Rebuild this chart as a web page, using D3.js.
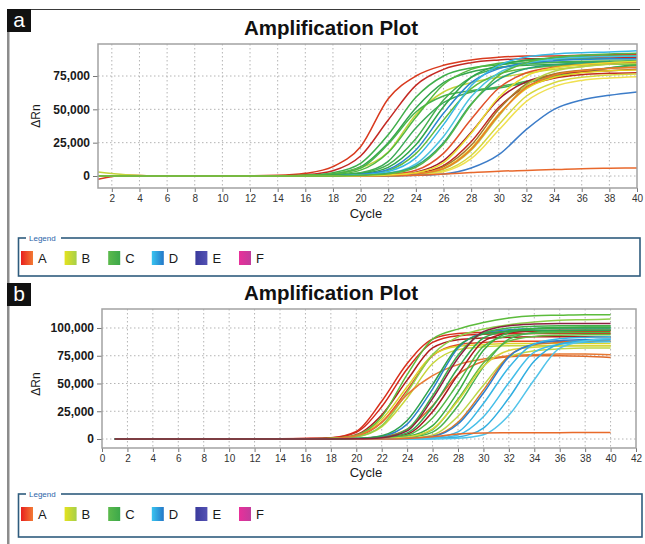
<!DOCTYPE html>
<html>
<head>
<meta charset="utf-8">
<script src="https://cdn.jsdelivr.net/npm/d3@7"></script>
<style>
  body { margin: 0; background: #fff; }
  svg { display: block; font-family: "Liberation Sans", Arial, sans-serif; }
</style>
</head>
<body>
<div id="chart"></div>
<script>
// sampled cycles shared by every curve (values below are in thousands of ΔRn)
const cycles = [1, 3, 6, 10, 14, 16, 18, 20, 22, 24, 26, 28, 30, 32, 34, 36, 38, 40];

const seriesNames = ["A", "B", "C", "D", "E", "F"];
const seriesGradients = [
  ["#e8201e", "#f27a34"],
  ["#e4e21e", "#a6d04a"],
  ["#5cba4c", "#3ca84a"],
  ["#38c4f0", "#2478c8"],
  ["#3a3a9c", "#5452b4"],
  ["#e8309a", "#c23c9c"]
];

const xTicksA = d3.range(2, 41, 2);
const yTicksA = [0, 25000, 50000, 75000];
const xTicksB = d3.range(0, 43, 2);
const yTicksB = [0, 25000, 50000, 75000, 100000];

// panel a curves
const groupsA = ["A","A","C","C","B","C","C","C","C","C","C","D","D","D","C","A","A","A","A","B","B","B","B","A","D","A","B","C"];
const colorsA = ["#d93a1e","#c42a24","#3fae4a","#34a64e","#c4d43a","#48b24a","#52b840","#3caa56","#44b050","#2ea64a",
  "#62bc3c","#2a84d0","#36b6e6","#4ac2e2","#2aa07a","#e0502a","#a3182e","#c02a1e","#a8782a","#e2d21e",
  "#d6d83e","#f0e050","#b6d044","#ee7a2a","#3c7cc8","#e8682c","#e8dc30","#56b646"];
const valuesA = [
  [-2.5, 0.5, 0, 0, 0.5, 2, 7, 22, 58, 75, 83, 87, 89, 90, 90, 90.5, 91, 91],
  [0, 0, 0, 0, 0.2, 1, 4, 15, 42, 68, 80, 85, 87, 88, 88, 88.5, 89, 89],
  [0, 0, 0, 0, 0.1, 0.5, 2.5, 9.5, 31, 59, 75, 81, 83.5, 85, 85.5, 86, 86, 86.5],
  [0, 0, 0, 0, 0, 0.4, 1.7, 7, 25, 51, 70, 78, 81.5, 83, 83.5, 84, 84, 84.5],
  [3, 1, 0, 0, 0, 0.3, 1.5, 6, 18, 46, 63, 70, 74, 77, 80, 82, 84, 85],
  [0, 0, 0, 0, 0.1, 0.4, 1.6, 6, 24, 48, 60, 64, 67, 71, 75, 78, 81, 83],
  [0, 0, 0, 0, 0, 0.2, 1, 4.4, 17.6, 44, 68.6, 80, 84.5, 86.5, 87.5, 88, 88, 88],
  [0, 0, 0, 0, 0, 0.2, 0.8, 2.5, 11, 36, 55, 63, 66, 70, 74, 78, 81, 84],
  [0, 0, 0, 0, 0, 0, 0.4, 2.2, 8.6, 28, 57, 74, 81, 84, 85, 85.5, 86, 86],
  [0, 0, 0, 0, 0, 0, 0.3, 1.6, 6.5, 23.4, 52, 74, 83, 87, 88.5, 89.5, 90, 90],
  [0, 0, 0, 0, 0, 0, 0.2, 1, 4.2, 16.8, 42, 65.5, 76.5, 80.6, 82.5, 83.5, 84, 84],
  [0, 0, 0, 0, 0, 0, 0.2, 1.2, 5, 19.5, 47, 70, 80.5, 84.7, 86.5, 87.5, 88, 88],
  [0, 0, 0, 0, 0, 0, 0.1, 0.8, 3.4, 13.6, 38.5, 67.7, 83, 89.3, 91.5, 92.5, 93, 94],
  [0, 0, 0, 0, 0, 0, 0, 0.5, 2.2, 9, 29.7, 59.4, 77.4, 84.6, 87.8, 89, 89.5, 90],
  [0, 0, 0, 0, 0, 0, 0, 0.4, 2, 7.6, 25, 54, 72.5, 80.5, 83.5, 85, 85.5, 86],
  [0, 0, 0, 0, 0, 0, 0, 0.2, 1, 4.3, 17, 42.5, 66, 77.4, 81.6, 83.5, 84.5, 85],
  [0, 0, 0, 0, 0, 0, 0, 0, 0.6, 2.9, 11.6, 32.8, 57.6, 70.8, 76, 78, 79, 80],
  [0, 0, 0, 0, 0, 0, 0, 0, 0.4, 2, 7.8, 25.7, 51.5, 67, 73.3, 76, 77, 77.5],
  [0, 0, 0, 0, 0, 0, 0, 0, 0.3, 1.4, 6.8, 23, 50, 69, 76.5, 79.3, 80.8, 81.5],
  [0, 0, 0, 0, 0, 0, 0, 0, 0.3, 1.4, 5.8, 20.8, 46.4, 65.6, 74, 77.4, 79, 79.5],
  [0, 0, 0, 0, 0, 0, 0, 0, 0.2, 0.9, 3.9, 15.4, 38.5, 60, 70, 74, 75.8, 76.5],
  [0, 0, 0, 0, 0, 0, 0, 0, 0.1, 0.7, 3.2, 13, 34.5, 56, 67, 71.7, 73.5, 74.5],
  [0, 0, 0, 0, 0, 0, 0, 0, 0.3, 1.2, 5.2, 19.3, 45, 68, 78.6, 82, 83.8, 84.5],
  [0, 0, 0, 0, 0, 0, 0, 0, 0.3, 1.4, 5.5, 20, 46, 66.5, 75.6, 79, 80.7, 81.5],
  [0, 0, 0, 0, 0, 0, 0, 0, 0.1, 0.5, 1.5, 6, 16, 35, 50, 57, 60.5, 63],
  [0, 0, 0, 0, 0, 0, 0, 0, 0.2, 0.6, 1.5, 2.6, 3.6, 4.2, 4.8, 5.5, 5.8, 6],
  [0, 0, 0, 0, 0, 0, 0, 0.2, 0.8, 2.5, 10, 32, 59, 75, 81, 83.5, 85, 86],
  [0, 0, 0, 0, 0, 0, 0, 0.5, 1.7, 6.6, 24, 53.4, 75.4, 85, 89, 90.5, 91.5, 92]
];

// panel b curves
const groupsB = ["A","A","A","A","B","B","C","C","A","A","A","D","C","C","C","C","C","C","B","B","A","D","D","D","D","D","A","C","A"];
const colorsB = ["#d8301c","#d42a1c","#b01c1c","#e24a24","#dcd426","#c6d63a","#5cbc3c","#8ed04a","#e87a34","#e06a2a",
  "#a81a22","#2a80cc","#40b04a","#34a850","#52b846","#3aac44","#66be40","#48b24e","#d8d43a","#bed646",
  "#d8782c","#2c7ed0","#38b6e4","#44bee8","#30aee0","#52c4ea","#e86a2a","#2ea24c","#8c2040"];
const valuesB = [
  [0, 0, 0, 0, 0.2, 0.5, 1.2, 6.8, 34, 68, 90, 95, 96, 96.5, 97, 97, 97, 97],
  [0, 0, 0, 0, 0.1, 0.4, 1, 6, 29, 63, 87, 93, 94.3, 94.8, 95, 95, 95, 95],
  [0, 0, 0, 0, 0, 0.2, 0.6, 3.9, 21.6, 53, 82, 89.5, 91, 91.6, 92, 92, 92, 92],
  [0, 0, 0, 0, 0, 0.1, 0.4, 2.6, 15, 44, 75, 85, 87, 88, 88, 88, 88, 88],
  [0, 0, 0, 0, 0, 0.1, 0.5, 3.1, 17.6, 47, 75.5, 83.5, 85, 86, 86, 86, 86, 86],
  [0, 0, 0, 0, 0, 0, 0.3, 2.1, 11, 37, 68, 80.5, 83, 84, 84, 84, 84, 84],
  [0, 0, 0, 0, 0, 0.1, 0.6, 3.5, 20, 58, 90, 99, 105, 109, 111, 111.5, 112, 112],
  [0, 0, 0, 0, 0, 0, 0.3, 2, 12, 42, 76, 92, 99, 103, 105.5, 107, 107.5, 108],
  [0, 0, 0, 0, 0, 0.1, 0.5, 3, 15, 40, 57, 67, 72, 75, 76, 76.5, 76.5, 76],
  [0, 0, 0, 0, 0, 0, 0, 0.4, 2, 9, 30, 58, 70, 74, 75, 75, 74.5, 73.5],
  [0, 0, 0, 0, 0, 0, 0, 0.2, 0.8, 4.4, 24.5, 58, 88, 95.5, 97.5, 98, 98, 98],
  [0, 0, 0, 0, 0, 0, 0, 0.4, 2.4, 13.4, 45, 82, 95.6, 98.5, 99.5, 100, 100, 100],
  [0, 0, 0, 0, 0, 0, 0, 0.2, 1.4, 8.6, 39, 75.5, 95.5, 100, 101.5, 102, 102, 102],
  [0, 0, 0, 0, 0, 0, 0, 0.1, 1, 5.5, 29, 64, 91, 97.5, 99.3, 100, 100, 100],
  [0, 0, 0, 0, 0, 0, 0, 0, 0.6, 3.4, 19, 50, 83.5, 93, 95.3, 96, 96, 96],
  [0, 0, 0, 0, 0, 0, 0, 0, 0.35, 2.2, 12, 42.4, 80, 96, 99.5, 100.5, 101, 101],
  [0, 0, 0, 0, 0, 0, 0, 0, 0.2, 1.4, 8.4, 36, 68.5, 88.2, 92.4, 93.5, 94, 94],
  [0, 0, 0, 0, 0, 0, 0, 0, 0.1, 1.1, 6.2, 30, 65, 90, 96, 97.3, 98, 98],
  [0, 0, 0, 0, 0, 0, 0, 0, 0.3, 1.8, 9.2, 34.4, 65.5, 79.8, 82.7, 83.6, 84, 84],
  [0, 0, 0, 0, 0, 0, 0, 0, 0.1, 0.7, 3.7, 20.5, 48.4, 73.8, 79.5, 81.2, 82, 82],
  [0, 0, 0, 0, 0, 0, 0, 0, 0.1, 0.4, 2.6, 15, 44, 75, 85, 87, 88, 88],
  [0, 0, 0, 0, 0, 0, 0, 0, 0.1, 0.4, 2.3, 13.5, 41.4, 74, 85.5, 88.6, 89.5, 90],
  [0, 0, 0, 0, 0, 0, 0, 0, 0, 0.2, 1.1, 6.4, 32, 64.4, 85.6, 90.2, 91.5, 92],
  [0, 0, 0, 0, 0, 0, 0, 0, 0, 0.1, 0.8, 3.7, 20, 50.7, 78.3, 85.4, 87.1, 87.6],
  [0, 0, 0, 0, 0, 0, 0, 0, 0, 0, 0.3, 1.9, 9.9, 36.9, 70.2, 85.5, 88.6, 89.5],
  [0, 0, 0, 0, 0, 0, 0, 0, 0, 0, 0.1, 0.6, 3.8, 21.3, 53.4, 81.9, 88.3, 90.5],
  [0, 0, 0, 0, 0, 0, 0, 0, 0, 0.5, 2, 4.5, 5.5, 5.6, 5.7, 5.7, 5.8, 5.8],
  [0, 0, 0, 0, 0, 0, 0, 0.5, 3, 16.7, 49, 83.3, 94.6, 97, 98, 98, 98, 98],
  [0, 0, 0, 0, 0, 0, 0, 0.2, 1.2, 7.3, 36.4, 72.8, 96.7, 102, 103.5, 104, 104, 104]
];

const width = 645;
const height = 544;

const svg = d3.select("#chart")
  .append("svg")
  .attr("width", width)
  .attr("height", height);

const defs = svg.append("defs");

// gradients for legend swatches
seriesGradients.forEach((g, i) => {
  const lg = defs.append("linearGradient")
    .attr("id", "grad" + i)
    .attr("x1", "0%").attr("x2", "100%")
    .attr("y1", "0%").attr("y2", "0%");
  lg.append("stop").attr("offset", "0%").attr("stop-color", g[0]);
  lg.append("stop").attr("offset", "100%").attr("stop-color", g[1]);
});

// outer figure frame
svg.append("line")
  .attr("x1", 7).attr("x2", 640)
  .attr("y1", 9.5).attr("y2", 9.5)
  .attr("stroke", "#3a3a3a")
  .attr("stroke-width", 1);

svg.append("rect")
  .attr("x", 7).attr("y", 9)
  .attr("width", 2.5).attr("height", height - 9)
  .attr("fill", "#8c8c8c");

function drawPanel(p) {
  const g = svg.append("g");

  // panel letter
  g.append("rect")
    .attr("x", 7).attr("y", p.labelTop)
    .attr("width", 24).attr("height", 23)
    .attr("fill", "#111");
  g.append("text")
    .attr("x", 19).attr("y", p.labelTop + 18)
    .attr("text-anchor", "middle")
    .attr("fill", "#fff")
    .style("font-size", "21px")
    .text(p.label);

  // title
  g.append("text")
    .attr("x", 331).attr("y", p.titleY)
    .attr("text-anchor", "middle")
    .attr("fill", "#111")
    .style("font-size", "20.5px")
    .style("font-weight", "bold")
    .text("Amplification Plot");

  const x = d3.scaleLinear().domain(p.xDomain).range([p.left, p.right]);
  const y = d3.scaleLinear().domain(p.yDomain).range([p.bottom, p.top]);

  // dotted grid
  g.append("g").selectAll("line")
    .data(p.xTicks.filter(t => t > p.xDomain[0] && t < p.xDomain[1]))
    .enter().append("line")
    .attr("x1", d => x(d)).attr("x2", d => x(d))
    .attr("y1", p.top).attr("y2", p.bottom)
    .attr("stroke", "#b4b4b4")
    .attr("stroke-dasharray", "1.5,2.5");
  g.append("g").selectAll("line")
    .data(p.yTicks)
    .enter().append("line")
    .attr("x1", p.left).attr("x2", p.right)
    .attr("y1", d => y(d)).attr("y2", d => y(d))
    .attr("stroke", "#b4b4b4")
    .attr("stroke-dasharray", "1.5,2.5");

  // axes
  const yAxis = g.append("g")
    .attr("transform", `translate(${p.left},0)`)
    .call(d3.axisLeft(y).tickValues(p.yTicks).tickFormat(d3.format(",")).tickSize(5).tickPadding(3));
  yAxis.select(".domain").remove();
  yAxis.selectAll("line").attr("stroke", "#777");
  yAxis.selectAll("text")
    .attr("fill", "#1a1a1a")
    .style("font-size", "12px")
    .style("font-weight", "bold")
    .style("font-family", "'Liberation Sans', Arial, sans-serif");

  const xAxis = g.append("g")
    .attr("transform", `translate(0,${p.bottom})`)
    .call(d3.axisBottom(x).tickValues(p.xTicks).tickSize(4).tickPadding(3));
  xAxis.select(".domain").remove();
  xAxis.selectAll("line").attr("stroke", "#777");
  xAxis.selectAll("text")
    .attr("fill", "#333")
    .style("font-size", "10px")
    .style("font-family", "'Liberation Sans', Arial, sans-serif");

  // amplification curves
  const clipId = "clip" + p.label;
  defs.append("clipPath").attr("id", clipId)
    .append("rect")
    .attr("x", p.left).attr("y", p.top)
    .attr("width", p.right - p.left).attr("height", p.bottom - p.top);

  const line = d3.line()
    .x((d, i) => x(cycles[i]))
    .y(d => y(d * 1000))
    .curve(d3.curveMonotoneX);

  g.append("g")
    .attr("clip-path", `url(#${clipId})`)
    .selectAll("path")
    .data(p.values)
    .enter().append("path")
    .attr("d", line)
    .attr("fill", "none")
    .attr("stroke", (d, i) => p.colors[i])
    .attr("stroke-width", 1.5)
    .attr("stroke-linejoin", "round");

  // plot border
  g.append("rect")
    .attr("x", p.left).attr("y", p.top)
    .attr("width", p.right - p.left).attr("height", p.bottom - p.top)
    .attr("fill", "none")
    .attr("stroke", "#a2a2a2")
    .attr("stroke-width", 1.5);

  // axis titles
  g.append("text")
    .attr("transform", `translate(40,${p.yLabelY}) rotate(-90)`)
    .attr("text-anchor", "middle")
    .attr("fill", "#1a1a1a")
    .style("font-size", "12px")
    .text("ΔRn");
  g.append("text")
    .attr("x", 366).attr("y", p.cycleY)
    .attr("text-anchor", "middle")
    .attr("fill", "#1a1a1a")
    .style("font-size", "13px")
    .text("Cycle");

  // legend box
  const lg = g.append("g");
  lg.append("rect")
    .attr("x", 18.5).attr("y", p.legendTop)
    .attr("width", p.legendRight - 18.5).attr("height", p.legendBottom - p.legendTop)
    .attr("fill", "none")
    .attr("stroke", "#2f5c7e")
    .attr("stroke-width", 1.6);
  lg.append("rect")
    .attr("x", 26).attr("y", p.legendTop - 3)
    .attr("width", 35).attr("height", 6)
    .attr("fill", "#fff");
  lg.append("text")
    .attr("x", 29).attr("y", p.legendTop + 2.5)
    .attr("fill", "#2a64a8")
    .style("font-size", "8px")
    .text("Legend");

  const items = lg.selectAll(".legend")
    .data(seriesNames)
    .enter().append("g")
    .attr("class", "legend")
    .attr("transform", (d, i) => `translate(${21 + i * 43.6},${p.legendTop + 13})`);
  items.append("rect")
    .attr("width", 12).attr("height", 14)
    .attr("fill", (d, i) => `url(#grad${i})`);
  items.append("text")
    .attr("x", 17).attr("y", 12)
    .attr("fill", "#1a1a1a")
    .style("font-size", "13px")
    .text(d => d);
}

drawPanel({
  label: "a", labelTop: 9, titleY: 35,
  left: 98, right: 637, top: 44, bottom: 188,
  xDomain: [1, 40], yDomain: [-9000, 99000],
  xTicks: xTicksA, yTicks: yTicksA,
  yLabelY: 116, cycleY: 218,
  legendTop: 238, legendBottom: 276, legendRight: 640,
  values: valuesA, colors: colorsA
});

drawPanel({
  label: "b", labelTop: 283, titleY: 300,
  left: 102, right: 636, top: 309, bottom: 448,
  xDomain: [0, 42], yDomain: [-8100, 117100],
  xTicks: xTicksB, yTicks: yTicksB,
  yLabelY: 384, cycleY: 477,
  legendTop: 494, legendBottom: 537, legendRight: 642,
  values: valuesB, colors: colorsB
});
</script>
</body>
</html>
